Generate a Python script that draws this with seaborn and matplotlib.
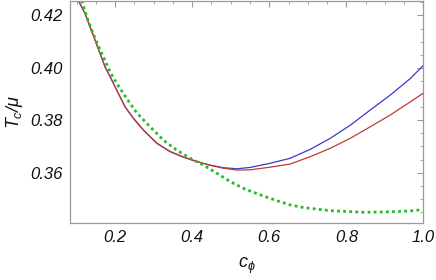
import numpy as np
import pandas as pd
import matplotlib
matplotlib.use("Agg")
import matplotlib.pyplot as plt
import seaborn as sns
from matplotlib.ticker import MultipleLocator

# Data
c_blue = [0.1048, 0.1222, 0.1352, 0.1482, 0.1611, 0.1741, 0.1915, 0.2086, 0.2260, 0.2475,
          0.2735, 0.3082, 0.3428, 0.3773, 0.4120, 0.4466, 0.4811, 0.5158, 0.5503, 0.6022,
          0.6541, 0.7060, 0.7579, 0.8098, 0.8617, 0.9136, 0.9655, 1.0]
T_blue = [0.4257, 0.4207, 0.4156, 0.4105, 0.4054, 0.4003, 0.3953, 0.3902, 0.3851, 0.3807,
          0.3762, 0.3712, 0.3680, 0.3659, 0.3642, 0.3629, 0.3619, 0.3615, 0.3620, 0.3636,
          0.3655, 0.3689, 0.3731, 0.3781, 0.3839, 0.3896, 0.3959, 0.4010]

c_red = [0.1048, 0.1222, 0.1352, 0.1482, 0.1611, 0.1741, 0.1915, 0.2086, 0.2260, 0.2475,
         0.2735, 0.3082, 0.3428, 0.3773, 0.4120, 0.4466, 0.4811, 0.5158, 0.5503, 0.6022,
         0.6541, 0.7060, 0.7579, 0.8098, 0.8617, 0.9136, 0.9655, 1.0]
T_red = [0.4257, 0.4207, 0.4156, 0.4105, 0.4054, 0.4003, 0.3953, 0.3902, 0.3851, 0.3808,
         0.3763, 0.3713, 0.3681, 0.3660, 0.3643, 0.3628, 0.3617, 0.3610, 0.3611, 0.3621,
         0.3633, 0.3661, 0.3693, 0.3731, 0.3775, 0.3820, 0.3870, 0.3904]

c_green = [0.1136, 0.1266, 0.1396, 0.1541, 0.1697, 0.1871, 0.2045, 0.2216, 0.2390, 0.2564,
           0.2909, 0.3254, 0.3601, 0.3947, 0.4292, 0.4639, 0.4984, 0.5374, 0.5848, 0.6196,
           0.6541, 0.6886, 0.7234, 0.7579, 0.8012, 0.8443, 0.8962, 0.9395, 0.9741, 0.9914]
T_green = [0.4257, 0.4194, 0.4143, 0.4092, 0.4041, 0.3984, 0.3940, 0.3902, 0.3864, 0.3828,
           0.3775, 0.3724, 0.3686, 0.3655, 0.3629, 0.3598, 0.3566, 0.3537, 0.3511, 0.3493,
           0.3477, 0.3467, 0.3461, 0.3455, 0.3452, 0.3449, 0.3450, 0.3452, 0.3455, 0.3458]

x_ticks = [0.2, 0.4, 0.6, 0.8, 1.0]
y_ticks = [0.36, 0.38, 0.40, 0.42]

sns.set_theme(style="white")
plt.rcParams['font.family'] = ['Liberation Sans', 'DejaVu Sans']
plt.rcParams['font.style'] = 'italic'
plt.rcParams['mathtext.fontset'] = 'custom'
plt.rcParams['mathtext.it'] = 'Liberation Sans:italic'
plt.rcParams['mathtext.rm'] = 'Liberation Sans:italic'

fig = plt.figure(figsize=(4.36, 2.80), dpi=100)
ax = fig.add_axes([0.1606, 0.2036, 0.9713 - 0.1606, 0.998 - 0.2036])

df_b = pd.DataFrame({"c": c_blue, "T": T_blue})
df_r = pd.DataFrame({"c": c_red, "T": T_red})
df_g = pd.DataFrame({"c": c_green, "T": T_green})

sns.lineplot(data=df_b, x="c", y="T", ax=ax, color="#3a3acc", lw=0.9, sort=False)
sns.lineplot(data=df_r, x="c", y="T", ax=ax, color="#c03a3a", lw=0.9, sort=False)
sns.lineplot(data=df_g, x="c", y="T", ax=ax, color="#22bb22", lw=2.0, sort=False,
             linestyle=(0, (1, 1.2)))

ax.set_xlim(0.083, 1.0)
ax.set_ylim(0.3408, 0.4257)
ax.set_xticks(x_ticks)
ax.set_yticks(y_ticks)
ax.set_xticklabels([f"{v:.1f}" for v in x_ticks])
ax.set_yticklabels([f"{v:.2f}" for v in y_ticks])
ax.xaxis.set_minor_locator(MultipleLocator(0.05))
ax.yaxis.set_minor_locator(MultipleLocator(0.005))

spine_c = "#9a9a9a"
for s in ax.spines.values():
    s.set_color(spine_c)
    s.set_linewidth(0.9)
ax.tick_params(which="both", direction="in", top=True, right=True, colors=spine_c,
               labelcolor="#111111", labelsize=12)
ax.tick_params(which="major", length=4, width=0.8, pad=5)
ax.tick_params(which="minor", length=2, width=0.6)

ax.set_xlabel(r"$c_{\phi}$", fontsize=13, color="#111111", labelpad=8)
ax.set_ylabel(r"$T_c/\mu$", fontsize=13, color="#111111", labelpad=4)

fig.savefig("out.png", dpi=100)
